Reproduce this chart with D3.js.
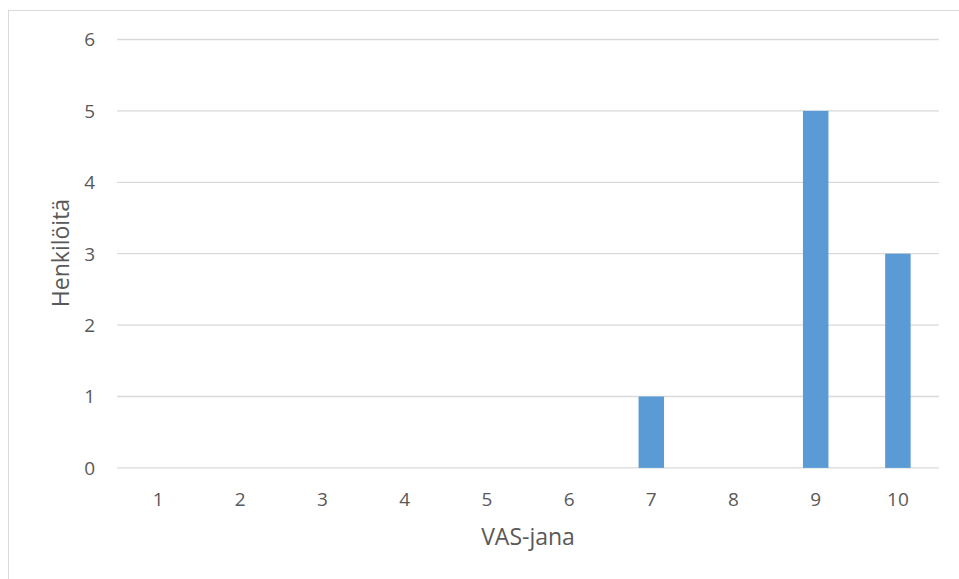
<!DOCTYPE html>
<html>
<head>
<meta charset="utf-8">
<script src="https://cdn.jsdelivr.net/npm/d3@7"></script>
<style>
  html, body { margin: 0; padding: 0; background: #fff; }
  svg { display: block; }
  text { font-family: "Open Sans", "Noto Sans", sans-serif; fill: #595959; }
</style>
</head>
<body>
<svg id="chart" width="959" height="579"></svg>
<script>
// VAS score categories and number of respondents per score
const categories = ["1", "2", "3", "4", "5", "6", "7", "8", "9", "10"];
const counts = [0, 0, 0, 0, 0, 0, 1, 0, 5, 3];
const yTicks = [0, 1, 2, 3, 4, 5, 6];
const xTitle = "VAS-jana";
const yTitle = "Henkilöitä";

const W = 959, H = 579;
const plot = { left: 117, right: 939, top: 39.5, bottom: 467.9 };

const svg = d3.select("#chart");

// chart frame
svg.append("rect")
  .attr("x", 8.5).attr("y", 10.5)
  .attr("width", W).attr("height", H)
  .attr("fill", "none")
  .attr("stroke", "#d9d9d9")
  .attr("stroke-width", 1);

const x = d3.scaleBand()
  .domain(categories)
  .range([plot.left, plot.right])
  .paddingInner(0.69)
  .paddingOuter(0.345);

const y = d3.scaleLinear()
  .domain([0, 6])
  .range([plot.bottom, plot.top]);

// horizontal gridlines
svg.append("g")
  .selectAll("line")
  .data(yTicks)
  .join("line")
  .attr("x1", plot.left).attr("x2", plot.right)
  .attr("y1", d => y(d)).attr("y2", d => y(d))
  .attr("stroke", "#d9d9d9")
  .attr("stroke-width", 1.3);

// bars
svg.append("g")
  .selectAll("rect")
  .data(categories.map((c, i) => ({ c, v: counts[i] })))
  .join("rect")
  .attr("x", d => x(d.c))
  .attr("width", x.bandwidth())
  .attr("y", d => y(d.v))
  .attr("height", d => y(0) - y(d.v))
  .attr("fill", "#5b9bd5");

// y axis labels
const yAxis = d3.axisLeft(y).tickValues(yTicks).tickSize(0).tickPadding(0).tickFormat(d3.format("d"));
const gy = svg.append("g")
  .attr("transform", `translate(${plot.left - 22},0)`)
  .call(yAxis);
gy.select(".domain").remove();
gy.selectAll("text")
  .attr("font-size", 19)
  .attr("font-family", null)
  .attr("dy", "0.34em");

// x axis labels
const xAxis = d3.axisBottom(x).tickSize(0).tickPadding(0);
const gx = svg.append("g")
  .attr("transform", `translate(0,${plot.bottom})`)
  .call(xAxis);
gx.select(".domain").remove();
gx.selectAll("text")
  .attr("font-size", 19)
  .attr("font-family", null)
  .attr("y", 38)
  .attr("dy", null);

// axis titles
svg.append("text")
  .attr("x", (plot.left + plot.right) / 2)
  .attr("y", 545)
  .attr("text-anchor", "middle")
  .attr("font-size", 23)
  .text(xTitle);

svg.append("text")
  .attr("transform", `translate(50,253) rotate(-90)`)
  .attr("text-anchor", "middle")
  .attr("y", 19)
  .attr("font-size", 23)
  .text(yTitle);
</script>
</body>
</html>
